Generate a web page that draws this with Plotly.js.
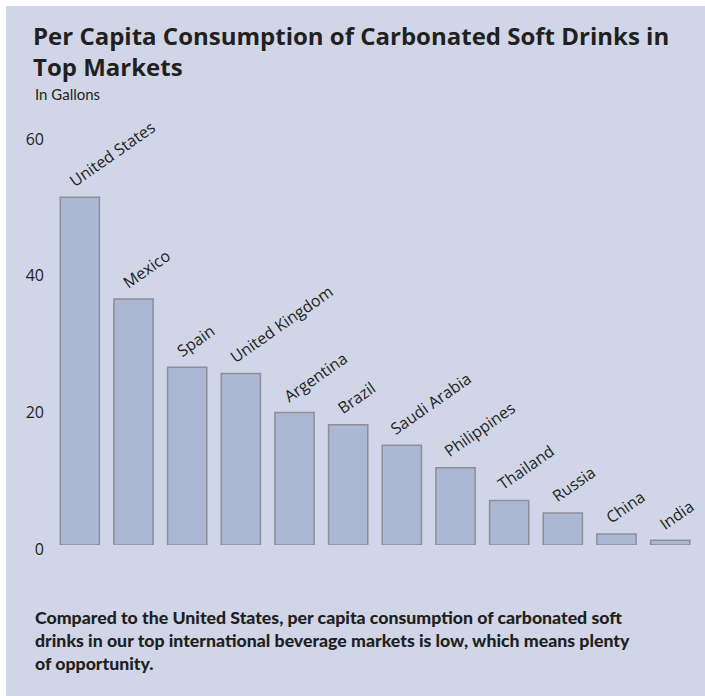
<!DOCTYPE html>
<html>
<head>
<meta charset="utf-8">
<script src="https://cdn.plot.ly/plotly-3.0.1.min.js"></script>
<style>
  html, body { margin: 0; padding: 0; background: #ffffff; }
  #chart { position: absolute; left: 6px; top: 6px; width: 699px; height: 690px; }
</style>
</head>
<body>
<div id="chart"></div>
<script>
const countries = ["United States", "Mexico", "Spain", "United Kingdom", "Argentina", "Brazil",
                   "Saudi Arabia", "Philippines", "Thailand", "Russia", "China", "India"];
const gallons = [50.9, 36.0, 26.0, 25.1, 19.4, 17.6, 14.6, 11.3, 6.5, 4.7, 1.6, 0.7];
const yTicks = [0, 20, 40, 60];
const titleText = "Per Capita Consumption of Carbonated Soft Drinks in<br>Top Markets";
const subtitleText = "In Gallons";
const noteText = "Compared to the United States, per capita consumption of carbonated soft<br>" +
                 "drinks in our top international beverage markets is low, which means plenty<br>" +
                 "of opportunity.";

const panel = "#d0d6e7";
const ink = "#231f20";
const narrow = "Lato, 'Liberation Sans Narrow', sans-serif";

const trace = {
  type: "bar",
  x: countries,
  y: gallons,
  marker: { color: "#acb7d4", line: { color: "#8c8f98", width: 1.5 } },
  hoverinfo: "x+y"
};

const labelAnnotations = countries.map((c, i) => ({
  x: c, y: gallons[i], xref: "x", yref: "y",
  text: c, showarrow: false, textangle: -35,
  xanchor: "left", yanchor: "bottom", xshift: -18, yshift: 3,
  font: { family: "'Open Sans', sans-serif", size: 16, color: ink }
}));

const layout = {
  width: 699, height: 690,
  paper_bgcolor: panel, plot_bgcolor: panel,
  margin: { l: 47, r: 8, t: 129, b: 151 },
  showlegend: false,
  bargap: 0.27,
  title: {
    text: titleText,
    font: { family: "'Open Sans', sans-serif", size: 24, weight: 700, color: ink },
    xref: "container", x: 27 / 699, xanchor: "left",
    yref: "container", y: 1 - 39 / 690, yanchor: "top"
  },
  xaxis: {
    type: "category", range: [-0.5, 11.5],
    showticklabels: false, showgrid: false, zeroline: false, showline: false, ticks: ""
  },
  yaxis: {
    range: [0, 60], tickvals: yTicks, ticktext: yTicks.map(String),
    showgrid: false, zeroline: false, showline: false, ticks: "",
    ticklabelstandoff: 8, ticklabelshift: 4,
    tickfont: { family: "'Open Sans', sans-serif", size: 16, color: ink }
  },
  annotations: labelAnnotations.concat([
    {
      xref: "paper", yref: "paper", x: (27 - 47) / 644, y: (539 - 88) / 410,
      xanchor: "left", yanchor: "middle", showarrow: false, align: "left",
      text: subtitleText,
      font: { family: narrow, size: 15, color: ink }
    },
    {
      xref: "paper", yref: "paper", x: (27 - 47) / 644, y: (539 - 634) / 410,
      xanchor: "left", yanchor: "middle", showarrow: false, align: "left",
      text: noteText,
      font: { family: narrow, size: 17.7, weight: 900, color: ink }
    }
  ])
};

Plotly.newPlot("chart", [trace], layout, { displayModeBar: false, staticPlot: true });
</script>
</body>
</html>
